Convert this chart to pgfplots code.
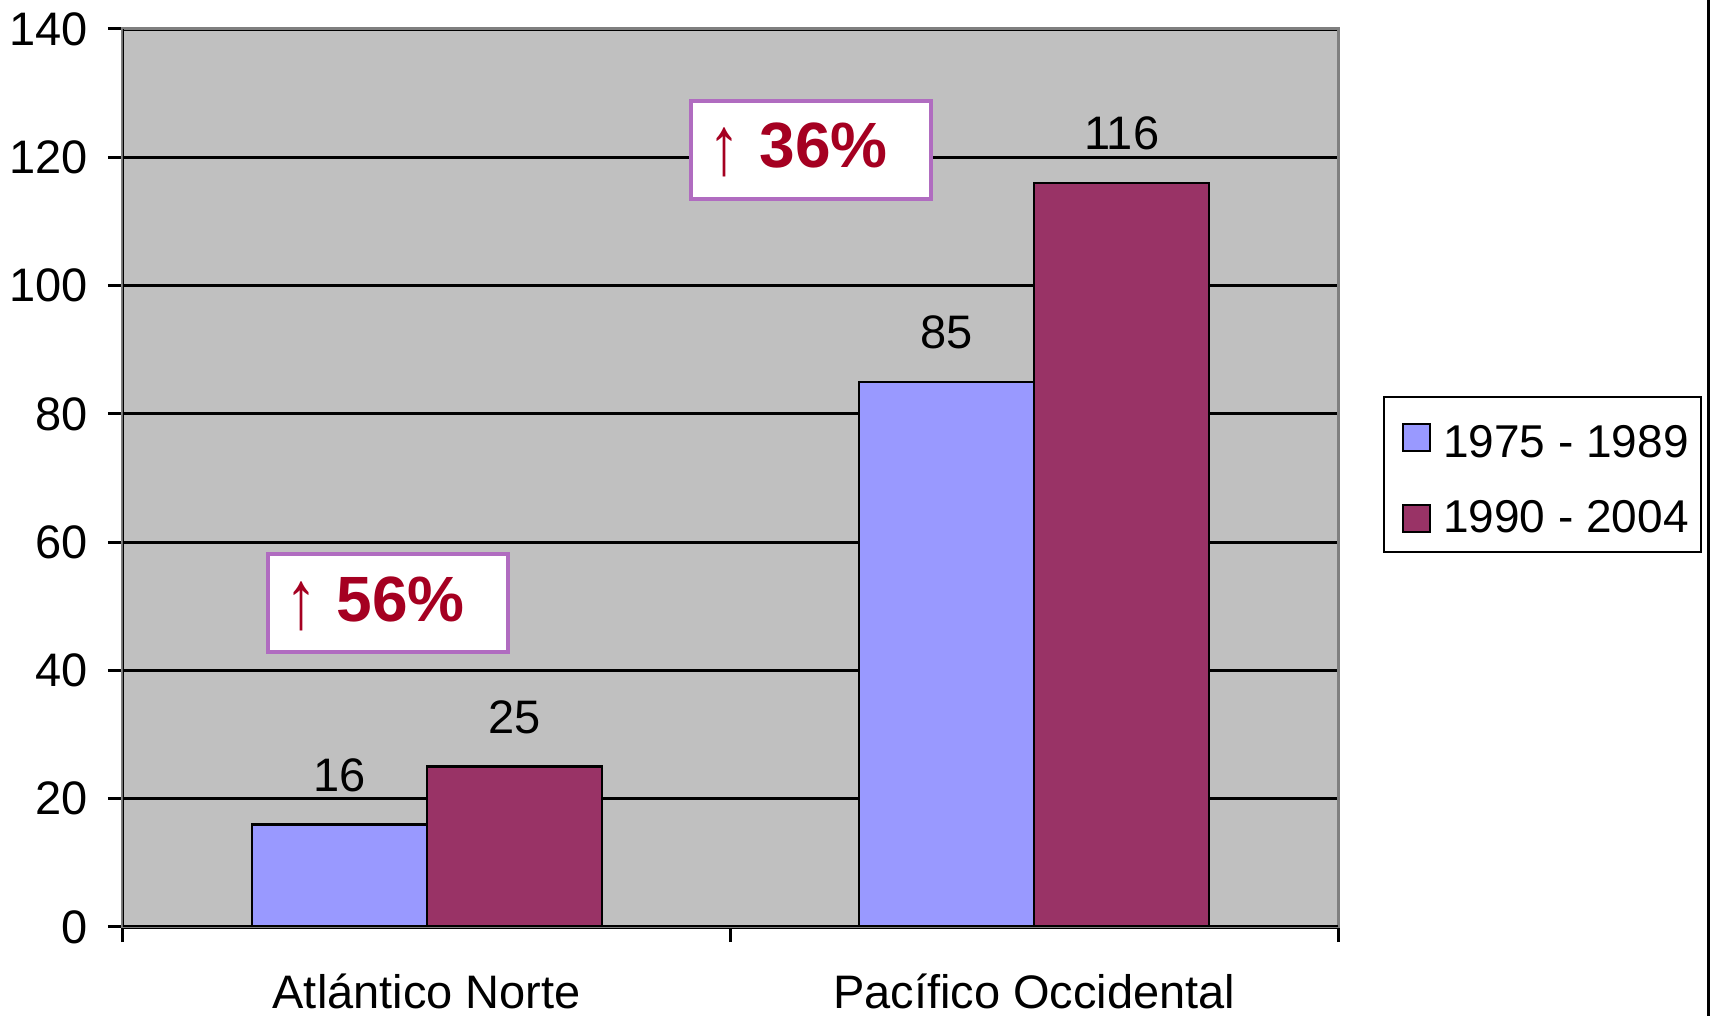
\documentclass[border=0pt]{standalone}
\usepackage{fontspec}
\setmainfont{Liberation Sans}
\usepackage{graphicx}
\usepackage{pgfplots}
\pgfplotsset{compat=1.18}
\definecolor{bgray}{HTML}{C0C0C0}
\definecolor{pblue}{HTML}{9999FF}
\definecolor{pmaroon}{HTML}{993366}
\definecolor{tred}{HTML}{A50021}
\definecolor{bpurple}{HTML}{B06CC0}
\definecolor{fgray}{HTML}{808080}
\newcommand{\lbl}{\fontsize{23.5}{28}\selectfont}
\newcommand{\pct}[1]{{\fontsize{32}{38}\selectfont\raisebox{-3.5pt}{\scalebox{1}[1.3]{↑}}\hspace{0.3em}\bfseries #1\%}}
\begin{document}
\begin{tikzpicture}
\path[use as bounding box] (0,0) rectangle (856pt,508pt);
\begin{axis}[
  at={(61.5pt,44.5pt)}, anchor=south west,
  scale only axis, width=607.5pt, height=449pt,
  xmin=-0.5, xmax=1.5, ymin=0, ymax=140,
  ybar=0pt, bar width=0.288,
  /pgf/number format/assume math mode=true,
  axis background/.style={fill=bgray},
  axis line style={draw=fgray, line width=1.5pt},
  ymajorgrids, grid style={black, line width=1.6pt},
  ytick={0,20,...,140},
  xtick={-0.5,0.5,1.5}, xticklabels={,,},
  extra x ticks={0,1},
  extra x tick labels={Atlántico Norte,Pacífico Occidental},
  extra x tick style={major tick length=0pt, xticklabel style={anchor=base, yshift=-41pt}},
  tick align=outside, tick pos=left,
  tick style={black, line width=1.5pt},
  major tick length=7.5pt,
  ticklabel style={font=\lbl},
  yticklabel style={anchor=east, inner sep=0pt, xshift=-10pt},
  legend style={at={(1.037,0.591)}, anchor=north west, draw=black, line width=1pt,
    fill=white, font=\fontsize{23}{28}\selectfont, inner xsep=0pt, inner ysep=5.8pt,
    row sep=16pt, legend cell align=left,
    nodes={inner xsep=6pt}},
  legend image code/.code={\path (0pt,0pt); \draw[#1, draw=black, line width=1pt] (9pt,-7pt) rectangle (22.5pt,6.5pt);},
  nodes near coords,
  every node near coord/.append style={anchor=base, inner sep=0pt, yshift=16.5pt,
    font=\lbl, text=black},
]
\addplot[fill=pblue, draw=black, line width=1.2pt, bar shift=-0.144] coordinates {(0,16) (1,85)};
\addplot[fill=pmaroon, draw=black, line width=1.2pt, bar shift=0.144] coordinates {(0,25) (1,116)};
\legend{\rule{0pt}{22.5pt}1975 - 1989, 1990 - 2004}
\draw[black, line width=1.5pt] (rel axis cs:0,1) -- (rel axis cs:0,0) -- (rel axis cs:1,0);
\node[draw=bpurple, line width=2pt, fill=white, text=tred, inner xsep=9pt,
  text width=102pt, align=left, minimum height=49pt]
  at (axis cs:0.6317,121.1) {\pct{36}};
\node[draw=bpurple, line width=2pt, fill=white, text=tred, inner xsep=9pt,
  text width=102pt, align=left, minimum height=49pt]
  at (axis cs:-0.0646,50.44) {\pct{56}};
\end{axis}
\draw[black, line width=1.5pt] (854pt,0pt) -- (854pt,508pt);
\end{tikzpicture}
\end{document}
